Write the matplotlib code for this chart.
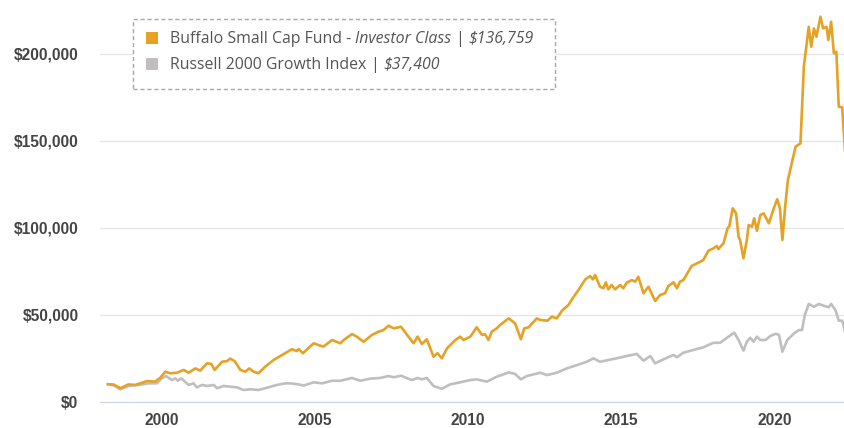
import matplotlib
matplotlib.use("Agg")
import matplotlib.pyplot as plt
from matplotlib.patches import Rectangle
from matplotlib.ticker import FuncFormatter

# growth of $10,000 (values in dollars)
fund_years = [1998.26, 1998.45, 1998.66, 1998.93, 1999.15, 1999.53, 1999.80, 1999.97, 2000.13, 2000.29,
              2000.51, 2000.73, 2000.89, 2001.11, 2001.27, 2001.49, 2001.63, 2001.74, 2001.98, 2002.14,
              2002.25, 2002.39, 2002.58, 2002.74, 2002.87, 2003.01, 2003.17, 2003.39, 2003.66, 2003.88,
              2004.04, 2004.26, 2004.42, 2004.48, 2004.62, 2004.97, 2005.13, 2005.29, 2005.57, 2005.84,
              2005.95, 2006.22, 2006.38, 2006.60, 2006.87, 2007.09, 2007.25, 2007.41, 2007.58, 2007.82,
              2008.06, 2008.23, 2008.36, 2008.50, 2008.66, 2008.88, 2009.01, 2009.15, 2009.32, 2009.59,
              2009.75, 2009.86, 2010.08, 2010.29, 2010.46, 2010.56, 2010.67, 2010.78, 2010.94, 2011.05,
              2011.33, 2011.54, 2011.73, 2011.84, 2011.98, 2012.25, 2012.36, 2012.60, 2012.74, 2012.90,
              2013.07, 2013.28, 2013.45, 2013.61, 2013.83, 2013.99, 2014.08, 2014.15, 2014.31, 2014.42,
              2014.50, 2014.58, 2014.69, 2014.80, 2014.97, 2015.07, 2015.18, 2015.35, 2015.46, 2015.56,
              2015.73, 2015.89, 2016.11, 2016.27, 2016.43, 2016.54, 2016.71, 2016.82, 2016.92, 2017.03,
              2017.30, 2017.52, 2017.68, 2017.85, 2018.01, 2018.12, 2018.17, 2018.34, 2018.47, 2018.53,
              2018.64, 2018.75, 2018.83, 2018.88, 2018.99, 2019.10, 2019.16, 2019.27, 2019.34, 2019.43,
              2019.54, 2019.65, 2019.82, 2019.98, 2020.09, 2020.18, 2020.26, 2020.36, 2020.44, 2020.69,
              2020.85, 2020.96, 2021.12, 2021.20, 2021.29, 2021.37, 2021.50, 2021.59, 2021.70, 2021.76,
              2021.85, 2021.94, 2022.02, 2022.10, 2022.21, 2022.28, 2022.33]
fund_values = [10200, 10000, 7900, 10100, 9800, 12000, 11700, 14000, 17400, 16500,
               16800, 18400, 16800, 19300, 18000, 22200, 21800, 18400, 23100, 23500,
               24900, 23500, 18400, 17400, 19300, 17400, 16500, 20300, 24100, 26400,
               28000, 30300, 29300, 30400, 28000, 33700, 32700, 31800, 35600, 33700,
               35600, 39000, 37500, 34600, 38500, 40400, 41300, 43800, 42300, 43200,
               37500, 33700, 37500, 33300, 36000, 26000, 28000, 25100, 30800, 35600,
               37500, 35600, 37500, 42900, 38500, 38900, 35600, 40400, 42300, 44200,
               48000, 45200, 36000, 42300, 42900, 48000, 47100, 46700, 49000, 48000,
               52400, 55700, 60400, 64300, 70400, 72300, 70400, 72900, 66200, 65300,
               68700, 64700, 67200, 64700, 67200, 65300, 68500, 70000, 69100, 71900,
               62400, 66200, 58000, 61400, 62400, 66600, 68700, 65300, 69100, 70000,
               78100, 80000, 81500, 86900, 88200, 89600, 87800, 91100, 99700, 101000,
               111200, 108300, 94900, 93000, 82500, 93000, 101600, 100600, 105500, 98300,
               107300, 108300, 102600, 111200, 116400, 111200, 93000, 114000, 127400, 146600,
               148500, 192500, 215400, 204000, 214500, 209700, 221200, 214500, 215400, 207800,
               218300, 200200, 201100, 169500, 169200, 150400, 136759]

index_years = [1998.26, 1998.45, 1998.66, 1998.93, 1999.26, 1999.59, 1999.86, 2000.02, 2000.15, 2000.35,
               2000.46, 2000.54, 2000.65, 2000.89, 2001.05, 2001.16, 2001.33, 2001.49, 2001.71, 2001.82,
               2002.03, 2002.25, 2002.47, 2002.68, 2002.90, 2003.17, 2003.45, 2003.77, 2004.04, 2004.21,
               2004.48, 2004.64, 2004.97, 2005.24, 2005.57, 2005.84, 2006.22, 2006.49, 2006.81, 2007.14,
               2007.41, 2007.58, 2007.82, 2008.17, 2008.36, 2008.50, 2008.66, 2008.88, 2009.15, 2009.42,
               2009.75, 2010.08, 2010.29, 2010.62, 2010.94, 2011.33, 2011.54, 2011.73, 2011.92, 2012.36,
               2012.58, 2012.90, 2013.23, 2013.56, 2013.88, 2014.10, 2014.31, 2014.58, 2014.86, 2015.18,
               2015.51, 2015.73, 2015.95, 2016.11, 2016.38, 2016.71, 2016.82, 2017.03, 2017.36, 2017.68,
               2018.01, 2018.23, 2018.50, 2018.69, 2018.83, 2018.99, 2019.10, 2019.21, 2019.32, 2019.43,
               2019.54, 2019.71, 2019.87, 2020.04, 2020.15, 2020.26, 2020.42, 2020.64, 2020.80, 2020.90,
               2020.99, 2021.12, 2021.29, 2021.45, 2021.60, 2021.77, 2021.85, 2021.99, 2022.10, 2022.21,
               2022.28, 2022.33]
index_values = [10200, 9600, 7300, 9200, 9800, 10700, 10700, 13600, 14900, 12600,
                13600, 12200, 13600, 9800, 10700, 8400, 9800, 9200, 9800, 7900,
                9200, 8800, 8400, 6900, 7300, 6900, 8200, 9800, 10700, 10700,
                10100, 9400, 11300, 10700, 12200, 12200, 13800, 12200, 13400, 13800,
                14900, 14200, 15100, 12600, 13800, 13000, 13800, 9200, 7600, 10100,
                11300, 12600, 13000, 11700, 14500, 17000, 16100, 13000, 14900, 16800,
                15500, 16800, 19300, 21200, 23100, 25100, 23100, 24100, 25100, 26400,
                27600, 23700, 26400, 22200, 24500, 27000, 25700, 28300, 29900, 31400,
                34000, 34000, 37500, 39800, 35600, 29500, 34600, 36900, 34600, 37500,
                35600, 35600, 37900, 39200, 38500, 28900, 35600, 39400, 41300, 41300,
                49900, 56300, 54700, 56300, 55300, 54400, 56300, 52800, 46700, 46700,
                42300, 37400]

y_ticks = [0, 50000, 100000, 150000, 200000]
x_ticks = [2000, 2005, 2010, 2015, 2020]

ORANGE = "#e6a225"
GRAY = "#bfbfbf"
W, H = 844, 428

fig = plt.figure(figsize=(W / 100, H / 100), dpi=100)
ax = fig.add_axes([100 / W, 26 / H, 744 / W, 402 / H])

ax.plot(index_years, index_values, color=GRAY, lw=1.9, solid_joinstyle="round")
ax.plot(fund_years, fund_values, color=ORANGE, lw=1.9, solid_joinstyle="round")

ax.set_xlim(1998.0, 2022.27)
ax.set_ylim(0, 230800)
ax.set_yticks(y_ticks)
ax.set_xticks(x_ticks)
ax.yaxis.set_major_formatter(FuncFormatter(lambda v, p: "${:,.0f}".format(v)))
ax.grid(axis="y", color="#e6e6e6", lw=1)
ax.set_axisbelow(True)
for s in ["top", "right", "left"]:
    ax.spines[s].set_visible(False)
ax.spines["bottom"].set_color("#ccd6eb")
ax.tick_params(length=0)
ax.tick_params(axis="y", pad=15.5)
ax.tick_params(axis="x", pad=8)
for lbl in ax.get_xticklabels() + ax.get_yticklabels():
    lbl.set_fontfamily("Liberation Sans")
    lbl.set_fontweight("bold")
    lbl.set_fontsize(11.2)
    lbl.set_color("#444444")

# legend box drawn by hand (mixed italic text)
fig.patches.append(Rectangle((133 / W, 1 - 89 / H), 422 / W, 70 / H, transform=fig.transFigure,
                             facecolor="white", edgecolor="#a8a8a8", lw=1, ls=(0, (3, 2)), zorder=5))
fig.patches.append(Rectangle((146 / W, 1 - 43.5 / H), 11.5 / W, 11.5 / H, transform=fig.transFigure,
                             facecolor=ORANGE, edgecolor="none", zorder=6))
fig.patches.append(Rectangle((146 / W, 1 - 70 / H), 11.5 / W, 11.5 / H, transform=fig.transFigure,
                             facecolor="#c0bfbd", edgecolor="none", zorder=6))

renderer = fig.canvas.get_renderer()
leg_font = dict(family="Open Sans", fontsize=11.45, color="#555555", va="baseline", zorder=7)


def text_width(s, style="normal"):
    t = fig.text(0, 0, s, fontstyle=style, **leg_font)
    w = t.get_window_extent(renderer).width
    t.remove()
    return w


space = text_width("x x") - text_width("xx")

rows = [
    (43.0, [("Buffalo Small Cap Fund -", "normal"), ("Investor Class", "italic"), ("|", "normal"), ("$136,759", "italic")]),
    (69.0, [("Russell 2000 Growth Index", "normal"), ("|", "normal"), ("$37,400", "italic")]),
]
for y, pieces in rows:
    x = 170
    for s, style in pieces:
        t = fig.text(x / W, 1 - y / H, s, fontstyle=style, **leg_font)
        x += t.get_window_extent(renderer).width + space

fig.savefig("out.png", dpi=100)
